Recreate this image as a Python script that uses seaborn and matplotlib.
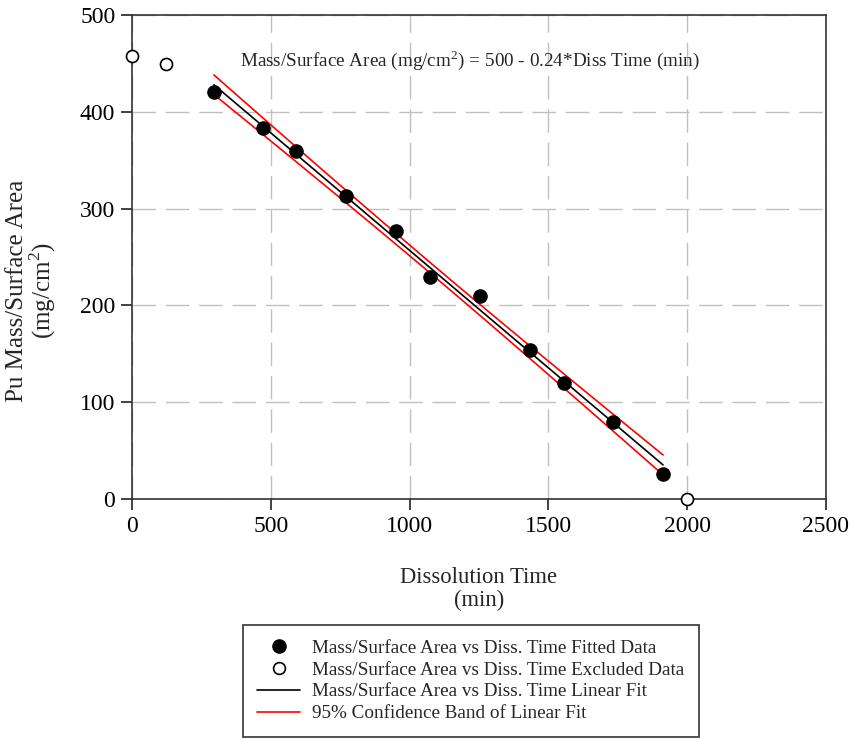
import numpy as np
import pandas as pd
import matplotlib
matplotlib.use("Agg")
import matplotlib.pyplot as plt
import seaborn as sns
from matplotlib.lines import Line2D

# ---- data ----
fit_time = [295, 472, 591, 771, 951, 1073, 1254, 1434, 1556, 1733, 1913]
fit_mass = [420, 383, 360, 313, 277, 229, 210, 154, 120, 80, 26]
excl_time = [0, 122, 2000]
excl_mass = [458, 449, 0]
x_ticks = [0, 500, 1000, 1500, 2000, 2500]
y_ticks = [0, 100, 200, 300, 400, 500]
equation = "Mass/Surface Area (mg/cm$^2$) = 500 - 0.24*Diss Time (min)"
legend_labels = ["Mass/Surface Area vs Diss. Time Fitted Data",
                 "Mass/Surface Area vs Diss. Time Excluded Data",
                 "Mass/Surface Area vs Diss. Time Linear Fit",
                 "95% Confidence Band of Linear Fit"]

sns.set_theme(style="white")
plt.rcParams['font.family'] = ['Liberation Serif', 'DejaVu Serif']
plt.rcParams['mathtext.fontset'] = 'custom'
plt.rcParams['mathtext.rm'] = 'Liberation Serif'

fit_df = pd.DataFrame({"time": fit_time, "mass": fit_mass})
excl_df = pd.DataFrame({"time": excl_time, "mass": excl_mass})

# linear fit and 95% confidence band (computed from the data)
x = np.asarray(fit_time, float)
y = np.asarray(fit_mass, float)
n = len(x)
b, a = np.polyfit(x, y, 1)
resid = y - (a + b * x)
s = np.sqrt(np.sum(resid ** 2) / (n - 2))
t975 = 2.262
xs = np.linspace(x.min(), x.max(), 100)
ys = a + b * xs
half = t975 * s * np.sqrt(1 / n + (xs - x.mean()) ** 2 / np.sum((x - x.mean()) ** 2))
line_df = pd.DataFrame({"time": xs, "fit": ys, "lo": ys - half, "hi": ys + half})

fig = plt.figure(figsize=(8.54, 7.4), dpi=100)
ax = fig.add_axes([132 / 854, 1 - 499 / 740, 694 / 854, 484 / 740])

ax.grid(True, color="#c0c0c0", linestyle=(0, (17, 7)), linewidth=1.0)
ax.set_axisbelow(True)

sns.lineplot(data=line_df, x="time", y="fit", ax=ax, color="black", linewidth=1.2, zorder=3)
sns.lineplot(data=line_df, x="time", y="lo", ax=ax, color="red", linewidth=1.2, zorder=3)
sns.lineplot(data=line_df, x="time", y="hi", ax=ax, color="red", linewidth=1.2, zorder=3)
sns.scatterplot(data=fit_df, x="time", y="mass", ax=ax, color="black", s=90,
                edgecolor="black", linewidth=1, zorder=4)
sns.scatterplot(data=excl_df, x="time", y="mass", ax=ax, color="white", s=75,
                edgecolor="black", linewidth=1.2, zorder=5, clip_on=False)

ax.set_xlim(0, 2500)
ax.set_ylim(0, 500)
ax.set_xticks(x_ticks)
ax.set_yticks(y_ticks)
ax.tick_params(axis="both", direction="out", length=8, width=1.2, colors="#222222",
               labelsize=17, labelcolor="black", pad=4, left=True, bottom=True)
for sp in ax.spines.values():
    sp.set_color("#333333")
    sp.set_linewidth(1.2)

ax.set_xlabel("Dissolution Time\n(min)", fontsize=16.3, labelpad=22, linespacing=1.1)
ax.set_ylabel("Pu Mass/Surface Area\n(mg/cm$^2$)", fontsize=18, linespacing=0.95)
ax.yaxis.set_label_coords(-0.107, 0.43)

ax.text(1218, 453, equation, fontsize=13.8, ha="center", va="center")

handles = [
    Line2D([], [], marker="o", color="black", linestyle="none", markersize=9.5),
    Line2D([], [], marker="o", markerfacecolor="white", markeredgecolor="black",
           linestyle="none", markersize=8.5, markeredgewidth=1.2),
    Line2D([], [], color="black", linewidth=1.2),
    Line2D([], [], color="red", linewidth=1.2),
]
leg = fig.legend(handles, legend_labels, loc="upper left",
                 bbox_to_anchor=(243 / 854, 1 - 625 / 740), fontsize=13.8,
                 frameon=True, fancybox=False, edgecolor="black",
                 handlelength=2.24, handletextpad=0.62, labelspacing=0.23,
                 borderpad=0.75, borderaxespad=0)
leg.get_frame().set_linewidth(1.2)

fig.savefig("out.png", dpi=100)
